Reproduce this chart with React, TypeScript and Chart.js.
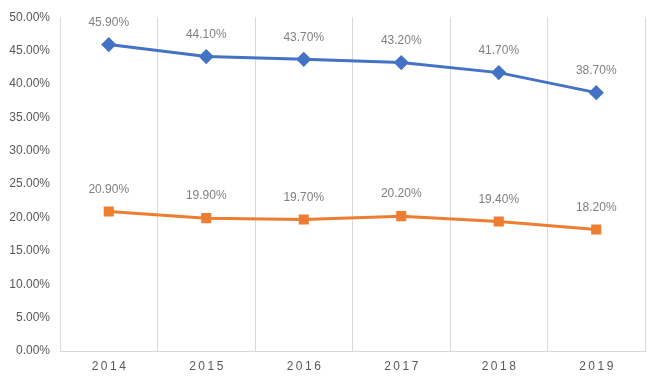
import React, { useEffect, useRef } from "react";
import { Chart, registerables } from "chart.js";

Chart.register(...registerables);

const categories = ["2014", "2015", "2016", "2017", "2018", "2019"];
const seriesA = [45.9, 44.1, 43.7, 43.2, 41.7, 38.7];
const seriesB = [20.9, 19.9, 19.7, 20.2, 19.4, 18.2];
const yTicks = [0, 5, 10, 15, 20, 25, 30, 35, 40, 45, 50];

const FONT = "'Liberation Sans', Arial, sans-serif";

const labelPlugin = {
  id: "labels",
  afterDatasetsDraw(chart: any) {
    const ctx = chart.ctx;
    ctx.save();
    ctx.font = `12px ${FONT}`;
    ctx.fillStyle = "#808080";
    ctx.textAlign = "center";
    ctx.textBaseline = "middle";
    chart.data.datasets.forEach((ds: any, i: number) => {
      const meta = chart.getDatasetMeta(i);
      meta.data.forEach((pt: any, j: number) => {
        ctx.fillText(ds.data[j].toFixed(2) + "%", pt.x, pt.y - 22);
      });
    });
    ctx.restore();
  },
  afterDraw(chart: any) {
    const ctx = chart.ctx;
    const xs = chart.scales.x;
    ctx.save();
    ctx.font = `12px ${FONT}`;
    ctx.fillStyle = "#595959";
    ctx.textAlign = "center";
    ctx.textBaseline = "middle";
    (ctx as any).letterSpacing = "2.5px";
    categories.forEach((c, i) => {
      ctx.fillText(c, xs.getPixelForValue(i) + 1.25, xs.bottom - 9);
    });
    ctx.restore();
  },
};

export default function App() {
  const ref = useRef<HTMLCanvasElement>(null);
  useEffect(() => {
    const chart = new Chart(ref.current!, {
      type: "line",
      data: {
        labels: categories,
        datasets: [
          {
            data: seriesA,
            borderColor: "#4472C4",
            backgroundColor: "#4472C4",
            borderWidth: 3,
            pointStyle: "rectRot",
            pointRadius: 5.5,
            pointHoverRadius: 5.5,
            tension: 0,
          },
          {
            data: seriesB,
            borderColor: "#ED7D31",
            backgroundColor: "#ED7D31",
            borderWidth: 3,
            pointStyle: "rect",
            pointRadius: 5,
            pointHoverRadius: 5,
            tension: 0,
          },
        ],
      },
      options: {
        responsive: false,
        animation: false,
        devicePixelRatio: 1,
        layout: { padding: { top: 17, right: 16, bottom: 0, left: 0 } },
        plugins: { legend: { display: false }, tooltip: { enabled: false } },
        scales: {
          x: {
            offset: true,
            grid: { offset: true, color: "#d9d9d9", tickLength: 0, drawTicks: false, lineWidth: 1 },
            border: { color: "#d9d9d9" },
            ticks: { display: false },
            afterFit: (s: any) => {
              s.height = 25;
            },
          },
          y: {
            min: 0,
            max: 50,
            afterBuildTicks: (s: any) => {
              s.ticks = yTicks.map((v) => ({ value: v }));
            },
            grid: { display: false, drawTicks: false },
            border: { display: false },
            ticks: {
              color: "#595959",
              font: { family: FONT, size: 12 },
              padding: 10,
              callback: (v: any) => Number(v).toFixed(2) + "%",
            },
            afterFit: (s: any) => {
              s.width = 60;
            },
          },
        },
      },
      plugins: [labelPlugin],
    });
    return () => chart.destroy();
  }, []);
  return (
    <div style={{ position: "fixed", left: 0, top: 0, width: 661, height: 376, background: "#fff" }}>
      <canvas ref={ref} width={661} height={376} />
    </div>
  );
}
